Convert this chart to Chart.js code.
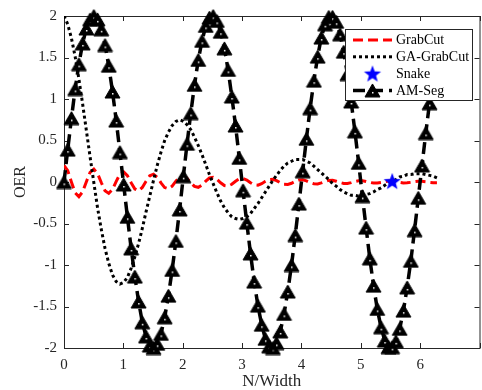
<!DOCTYPE html>
<html>
<head>
<meta charset="utf-8">
<script src="https://cdn.jsdelivr.net/npm/chart.js@4.4.1/dist/chart.umd.min.js"></script>
<style>
  html, body { margin: 0; padding: 0; background: #fff; overflow: hidden; }
  #wrap { width: 482px; height: 390px; overflow: hidden; }
</style>
</head>
<body>
<div id="wrap"><canvas id="oer" width="490" height="390"></canvas></div>
<script>
// x positions (N/Width)
const xVals = [
  0, 0.063, 0.126, 0.188, 0.251, 0.314, 0.377, 0.440, 0.503, 0.565,
  0.628, 0.691, 0.754, 0.817, 0.880, 0.942, 1.005, 1.068, 1.131, 1.194,
  1.257, 1.319, 1.382, 1.445, 1.508, 1.571, 1.634, 1.696, 1.759, 1.822,
  1.885, 1.948, 2.011, 2.073, 2.136, 2.199, 2.262, 2.325, 2.388, 2.450,
  2.513, 2.576, 2.639, 2.702, 2.765, 2.827, 2.890, 2.953, 3.016, 3.079,
  3.142, 3.204, 3.267, 3.330, 3.393, 3.456, 3.519, 3.581, 3.644, 3.707,
  3.770, 3.833, 3.896, 3.958, 4.021, 4.084, 4.147, 4.210, 4.273, 4.335,
  4.398, 4.461, 4.524, 4.587, 4.650, 4.712, 4.775, 4.838, 4.901, 4.964,
  5.027, 5.089, 5.152, 5.215, 5.278, 5.341, 5.404, 5.466, 5.529, 5.592,
  5.655, 5.718, 5.781, 5.843, 5.906, 5.969, 6.032, 6.095, 6.158, 6.220,
  6.283
];

const grabCut = [
  0.200, 0.136, -0.002, -0.130, -0.176, -0.118, 0.004, 0.117, 0.155, 0.103,
  -0.006, -0.105, -0.137, -0.089, 0.008, 0.094, 0.121, 0.077, -0.009, -0.084,
  -0.106, -0.066, 0.009, 0.075, 0.094, 0.057, -0.010, -0.067, -0.082, -0.050,
  0.010, 0.060, 0.073, 0.043, -0.010, -0.053, -0.064, -0.037, 0.010, 0.048,
  0.056, 0.032, -0.009, -0.043, -0.049, -0.027, 0.009, 0.038, 0.043, 0.024,
  -0.009, -0.034, -0.038, -0.020, 0.008, 0.030, 0.033, 0.017, -0.008, -0.027,
  -0.029, -0.015, 0.007, 0.024, 0.026, 0.013, -0.007, -0.021, -0.023, -0.011,
  0.006, 0.019, 0.020, 0.009, -0.006, -0.017, -0.017, -0.008, 0.006, 0.015,
  0.015, 0.007, -0.005, -0.013, -0.013, -0.006, 0.005, 0.012, 0.012, 0.005,
  -0.004, -0.011, -0.010, -0.004, 0.004, 0.009, 0.009, 0.004, -0.004, -0.008,
  -0.008
];

const gaGrabCut = [
  2.00, 1.90, 1.73, 1.51, 1.24, 0.94, 0.62, 0.30, -0.01, -0.31,
  -0.57, -0.80, -0.98, -1.12, -1.20, -1.23, -1.21, -1.15, -1.04, -0.90,
  -0.74, -0.56, -0.36, -0.17, 0.02, 0.20, 0.36, 0.50, 0.60, 0.68,
  0.73, 0.75, 0.73, 0.69, 0.63, 0.54, 0.44, 0.33, 0.21, 0.09,
  -0.02, -0.13, -0.23, -0.31, -0.37, -0.42, -0.44, -0.45, -0.44, -0.42,
  -0.38, -0.32, -0.26, -0.19, -0.12, -0.05, 0.02, 0.08, 0.14, 0.19,
  0.23, 0.25, 0.27, 0.27, 0.27, 0.25, 0.23, 0.19, 0.15, 0.11,
  0.07, 0.03, -0.02, -0.05, -0.09, -0.12, -0.14, -0.16, -0.16, -0.17,
  -0.16, -0.15, -0.14, -0.12, -0.09, -0.07, -0.04, -0.01, 0.01, 0.03,
  0.06, 0.07, 0.09, 0.09, 0.10, 0.10, 0.10, 0.09, 0.08, 0.07,
  0.05
];

const amSeg = [
  0.00, 0.39, 0.77, 1.12, 1.42, 1.67, 1.85, 1.96, 2.00, 1.96,
  1.84, 1.65, 1.40, 1.09, 0.74, 0.36, -0.03, -0.42, -0.80, -1.14,
  -1.44, -1.69, -1.86, -1.97, -2.00, -1.95, -1.83, -1.63, -1.37, -1.06,
  -0.71, -0.33, 0.07, 0.46, 0.83, 1.17, 1.47, 1.70, 1.88, 1.98,
  2.00, 1.94, 1.81, 1.61, 1.35, 1.03, 0.68, 0.29, -0.10, -0.49,
  -0.86, -1.20, -1.49, -1.72, -1.89, -1.98, -2.00, -1.94, -1.80, -1.59,
  -1.32, -1.00, -0.64, -0.26, 0.13, 0.52, 0.89, 1.22, 1.51, 1.74,
  1.90, 1.99, 1.99, 1.93, 1.78, 1.57, 1.30, 0.97, 0.61, 0.23,
  -0.17, -0.55, -0.92, -1.25, -1.53, -1.75, -1.91, -1.99, -1.99, -1.92,
  -1.77, -1.55, -1.27, -0.95, -0.58, -0.19, 0.20, 0.59, 0.95, 1.28,
  1.55
];

const snakeX = [5.53];
const snakeY = [0.01];

const xTicks = [0, 1, 2, 3, 4, 5, 6, 7];
const yTicks = [-2, -1.5, -1, -0.5, 0, 0.5, 1, 1.5, 2];

const axisColor = '#262626';
const serif = '"Liberation Serif", "Times New Roman", serif';

function pts(xs, ys) {
  return xs.map((x, i) => ({ x: x, y: ys[i] }));
}

// black filled triangle like matlab '^'
function triangleMarker() {
  const c = document.createElement('canvas');
  c.width = 17; c.height = 15;
  const g = c.getContext('2d');
  g.beginPath();
  g.moveTo(8.5, 1); g.lineTo(16, 14); g.lineTo(1, 14); g.closePath();
  g.fillStyle = '#000'; g.fill();
  g.lineWidth = 1; g.strokeStyle = '#000'; g.stroke();
  g.fillStyle = '#fff';
  g.fillRect(8, 9, 1.5, 1.5);
  return c;
}

function starMarker(r) {
  const size = Math.ceil(r * 2) + 2;
  const c = document.createElement('canvas');
  c.width = size; c.height = size;
  const g = c.getContext('2d');
  const cx = size / 2, cy = size / 2 + 0.8;
  g.beginPath();
  for (let k = 0; k < 10; k++) {
    const a = -Math.PI / 2 + k * Math.PI / 5;
    const rr = k % 2 ? r * 0.42 : r;
    const px = cx + Math.cos(a) * rr, py = cy + Math.sin(a) * rr;
    if (k === 0) g.moveTo(px, py); else g.lineTo(px, py);
  }
  g.closePath();
  g.fillStyle = '#0000ff'; g.fill();
  return c;
}

const tri = triangleMarker();
const star = starMarker(9);

// box with inward ticks on all four sides
const axisBox = {
  id: 'axisBox',
  beforeDatasetsDraw(chart) {
    const { ctx, chartArea: a, scales: { x, y } } = chart;
    ctx.save();
    ctx.strokeStyle = axisColor;
    ctx.lineWidth = 1;
    ctx.beginPath();
    xTicks.forEach(v => {
      const px = Math.round(x.getPixelForValue(v)) + 0.5;
      ctx.moveTo(px, a.bottom); ctx.lineTo(px, a.bottom - 5);
      ctx.moveTo(px, a.top); ctx.lineTo(px, a.top + 5);
    });
    yTicks.forEach(v => {
      const py = Math.round(y.getPixelForValue(v)) + 0.5;
      ctx.moveTo(a.left, py); ctx.lineTo(a.left + 5, py);
      ctx.moveTo(a.right, py); ctx.lineTo(a.right - 5, py);
    });
    ctx.stroke();
    ctx.strokeRect(a.left + 0.5, a.top + 0.5, a.right - a.left, a.bottom - a.top);
    ctx.restore();
  }
};

// legend box in the upper right corner
const boxLegend = {
  id: 'boxLegend',
  afterDraw(chart) {
    const ctx = chart.ctx;
    ctx.save();
    ctx.fillStyle = '#fff';
    ctx.fillRect(345, 29, 128, 72);
    ctx.strokeStyle = axisColor;
    ctx.lineWidth = 1;
    ctx.strokeRect(345.5, 29.5, 127, 71);
    chart.data.datasets.forEach((ds, i) => {
      const yy = 40 + i * 16.8;
      if (ds.showLine !== false) {
        ctx.beginPath();
        ctx.setLineDash(ds.borderDash || []);
        ctx.lineWidth = ds.borderWidth;
        ctx.strokeStyle = ds.borderColor;
        ctx.moveTo(353, yy);
        ctx.lineTo(392, yy);
        ctx.stroke();
        ctx.setLineDash([]);
      }
      if (ds.pointRadius > 0 && ds.pointStyle instanceof HTMLCanvasElement) {
        const im = ds.pointStyle;
        ctx.drawImage(im, 372.5 - im.width / 2, yy - im.height / 2);
      }
      ctx.fillStyle = '#000';
      ctx.font = '14px ' + serif;
      ctx.textBaseline = 'middle';
      ctx.textAlign = 'left';
      ctx.fillText(ds.label, 396, yy + 0.5);
    });
    ctx.restore();
  }
};

new Chart(document.getElementById('oer'), {
  type: 'line',
  data: {
    datasets: [
      {
        label: 'GrabCut',
        data: pts(xVals, grabCut),
        borderColor: '#ff0000',
        borderWidth: 3,
        borderDash: [10, 5],
        pointRadius: 0,
        order: 4
      },
      {
        label: 'GA-GrabCut',
        data: pts(xVals, gaGrabCut),
        borderColor: '#000000',
        borderWidth: 3,
        borderDash: [3, 3],
        pointRadius: 0,
        order: 3
      },
      {
        label: 'Snake',
        data: pts(snakeX, snakeY),
        showLine: false,
        pointStyle: star,
        pointRadius: 9,
        order: 1
      },
      {
        label: 'AM-Seg',
        data: pts(xVals, amSeg),
        borderColor: '#000000',
        borderWidth: 3.5,
        borderDash: [12, 6],
        pointStyle: tri,
        pointRadius: 7,
        clip: false,
        order: 2
      }
    ]
  },
  options: {
    responsive: false,
    animation: false,
    devicePixelRatio: 1,
    events: [],
    layout: { padding: { top: 15, right: 4, left: 0, bottom: 0 } },
    plugins: {
      legend: { display: false },
      tooltip: { enabled: false }
    },
    scales: {
      x: {
        type: 'linear',
        min: 0,
        max: 7,
        afterBuildTicks: s => { s.ticks = xTicks.map(v => ({ value: v })); },
        afterFit: s => { s.height = 42; },
        grid: { display: false, drawTicks: false },
        border: { display: false },
        ticks: {
          color: axisColor,
          font: { family: serif, size: 15 },
          padding: 8,
          maxRotation: 0,
          autoSkip: false,
          callback: v => (v === 7 ? '' : String(v))
        },
        title: {
          display: true,
          text: 'N/Width',
          color: axisColor,
          font: { family: serif, size: 17, lineHeight: 1.0 },
          padding: { top: 0, bottom: 0 }
        }
      },
      y: {
        type: 'linear',
        min: -2,
        max: 2,
        afterBuildTicks: s => { s.ticks = yTicks.map(v => ({ value: v })); },
        afterFit: s => { s.width = 64; },
        grid: { display: false, drawTicks: false },
        border: { display: false },
        ticks: {
          color: axisColor,
          font: { family: serif, size: 15 },
          padding: 7,
          autoSkip: false,
          callback: v => String(v)
        },
        title: {
          display: true,
          text: 'OER',
          color: axisColor,
          font: { family: serif, size: 16 },
          padding: { top: 11, bottom: 0 }
        }
      }
    }
  },
  plugins: [axisBox, boxLegend]
});
</script>
</body>
</html>
